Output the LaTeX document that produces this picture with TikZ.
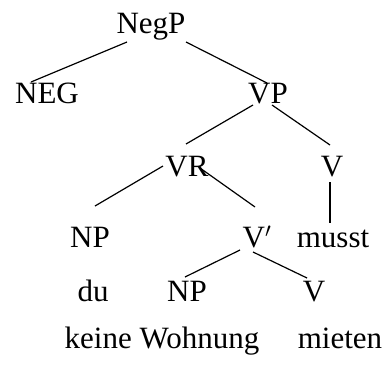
\documentclass[tikz,border=0pt]{standalone}
\usepackage{fontspec}
\setmainfont{Liberation Serif}
\begin{document}
\begin{tikzpicture}[x=1pt,y=-1pt,
  lbl/.style={anchor=base,inner sep=0pt,font=\fontsize{31}{36}\selectfont},
  edge/.style={line width=1.2pt}]
\useasboundingbox (0,0) rectangle (387,365);
\node[lbl] (negp) at (151,33) {NegP};
\node[lbl] (neg) at (47,103) {NEG};
\node[lbl] (vp) at (268,103) {VP};
\node[lbl] (vr) at (187,176) {VR};
\node[lbl] (v1) at (332,176) {V};
\node[lbl] (np1) at (90,247) {NP};
\node[lbl] (vbar) at (257,247) {V$'$};
\node[lbl] (musst) at (333,247) {musst};
\node[lbl] (du) at (93,301) {du};
\node[lbl] (np2) at (187,301) {NP};
\node[lbl] (v2) at (314,301) {V};
\node[lbl] (keine) at (162,348) {keine Wohnung};
\node[lbl] (mieten) at (340,348) {mieten};
\draw[edge] ([shift={(-24pt,-9pt)}]negp.base) -- ([shift={(-16pt,21pt)}]neg.base);
\draw[edge] ([shift={(35pt,-9pt)}]negp.base) -- ([shift={(-1pt,20pt)}]vp.base);
\draw[edge] ([shift={(-15pt,-2pt)}]vp.base) -- ([shift={(-1pt,32pt)}]vr.base);
\draw[edge] ([shift={(4pt,-2pt)}]vp.base) -- ([shift={(-2pt,31pt)}]v1.base);
\draw[edge] ([shift={(-24pt,10pt)}]vr.base) -- ([shift={(5pt,41pt)}]np1.base);
\draw[edge] ([shift={(13pt,8pt)}]vr.base) -- ([shift={(-2pt,40pt)}]vbar.base);
\draw[edge] ([shift={(-2pt,-6pt)}]v1.base) -- ([shift={(-3pt,24pt)}]musst.base);
\draw[edge] ([shift={(-17pt,-3pt)}]vbar.base) -- ([shift={(-2pt,24pt)}]np2.base);
\draw[edge] ([shift={(-4pt,-5pt)}]vbar.base) -- ([shift={(-7pt,23pt)}]v2.base);
\end{tikzpicture}
\end{document}
